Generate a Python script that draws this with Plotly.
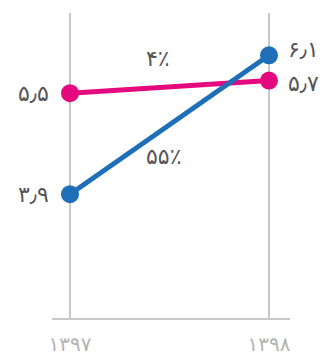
import plotly.graph_objects as go

years = ["۱۳۹۷", "۱۳۹۸"]
pink_values = [5.5, 5.7]
blue_values = [3.9, 6.1]
pink_labels = ["۵٫۵", "۵٫۷"]
blue_labels = ["۳٫۹", "۶٫۱"]
pink_change = "۴٪"
blue_change = "۵۵٪"

PINK = "#e5097f"
BLUE = "#1f6eb8"
TXT = "#555555"
FONT = "DejaVu Sans"

xs = [0, 1]
fig = go.Figure()
fig.add_trace(go.Scatter(x=xs, y=pink_values, mode="lines+markers",
                         line=dict(color=PINK, width=5),
                         marker=dict(color=PINK, size=18), hoverinfo="skip"))
fig.add_trace(go.Scatter(x=xs, y=blue_values, mode="lines+markers",
                         line=dict(color=BLUE, width=5),
                         marker=dict(color=BLUE, size=18), hoverinfo="skip"))

ann = []
lf = dict(family=FONT, size=22, color=TXT)
ann.append(dict(x=0, y=pink_values[0], text=pink_labels[0], xanchor="right",
                xshift=-19, showarrow=False, font=lf))
ann.append(dict(x=0, y=blue_values[0], text=blue_labels[0], xanchor="right",
                xshift=-19, showarrow=False, font=lf))
ann.append(dict(x=1, y=blue_values[1], text=blue_labels[1], xanchor="left",
                xshift=17, yshift=6, showarrow=False, font=lf))
ann.append(dict(x=1, y=pink_values[1], text=pink_labels[1], xanchor="left",
                xshift=17, yshift=-3, showarrow=False, font=lf))
ann.append(dict(x=0.44, y=6.05, text=pink_change, showarrow=False, font=lf))
ann.append(dict(x=0.47, y=4.5, text=blue_change, showarrow=False, font=lf))

fig.update_layout(
    width=321, height=356,
    margin=dict(l=52, r=31, t=13, b=38),
    paper_bgcolor="white", plot_bgcolor="white",
    showlegend=False,
    annotations=ann,
    xaxis=dict(range=[-0.0905, 1.1055], tickvals=xs, ticktext=years,
               showgrid=True, gridcolor="#c8c8c8", gridwidth=2,
               showline=True, linecolor="#c8c8c8", linewidth=2,
               zeroline=False, ticks="", automargin=False,
               ticklabelstandoff=7,
               tickfont=dict(family=FONT, size=20, color="#b3b3b3"),
               fixedrange=True),
    yaxis=dict(range=[1.94, 6.77], showgrid=False, zeroline=False,
               showticklabels=False, showline=False, fixedrange=True,
               automargin=False),
)
fig.write_html("out.html", config={"displayModeBar": False},
               post_script="document.body.style.margin='0';")
